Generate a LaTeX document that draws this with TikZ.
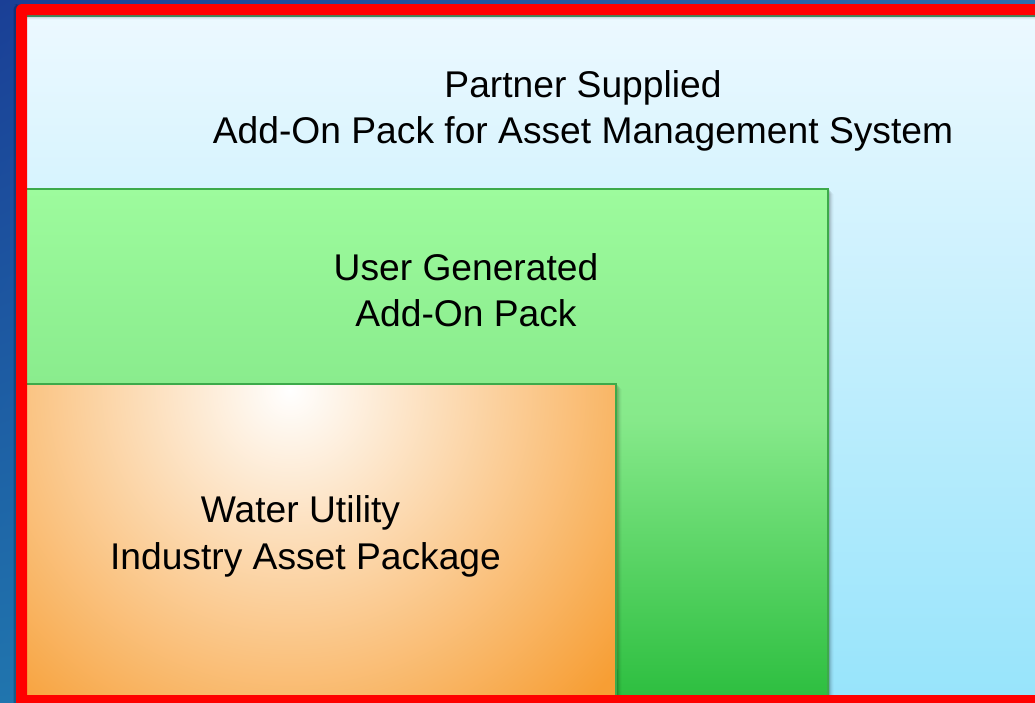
\documentclass[tikz,border=0pt]{standalone}
\usepackage{fontspec}
\setmainfont{Liberation Sans}
\usetikzlibrary{shadings}
\definecolor{bgUL}{HTML}{1A3F96}
\definecolor{bgUR}{HTML}{2D6EAE}
\definecolor{bgLL}{HTML}{2075AE}
\definecolor{bgLR}{HTML}{2A7DB5}
\definecolor{lbTop}{HTML}{EDF9FF}
\definecolor{lbBot}{HTML}{97E4FB}
\definecolor{gTop}{HTML}{9DFB9D}
\definecolor{gMid}{HTML}{86E98A}
\definecolor{gBot}{HTML}{2CBE3F}
\definecolor{edgegreen}{HTML}{3DAA4A}
\definecolor{topedge}{HTML}{3A8C5E}
\definecolor{orMain}{HTML}{F79E34}
\definecolor{frameRed}{HTML}{FF0000}
\begin{document}
\begin{tikzpicture}[x=1pt,y=-1pt,
  lbl/.style={font=\fontsize{37.2}{46}\selectfont, inner sep=0pt, anchor=base, text=black},
  boxedge/.style={draw=edgegreen, line width=2pt},
  softshadow/.style={fill=black, opacity=#1}]
\useasboundingbox (0,0) rectangle (1035,702);
\clip (0,0) rectangle (1035,702);
% outer blue background
\shade[upper left=bgUL, upper right=bgUR, lower left=bgLL, lower right=bgLR] (0,0) rectangle (1035,702);
% light blue panel
\shade[top color=lbTop, bottom color=lbBot] (21,9) rectangle (1040,700);
% thin edge under top of frame
\foreach \d/\o in {1/0.10,2/0.06,3/0.04,4/0.02}
  \fill[softshadow=\o] (27,16) rectangle (1035,16+\d);
\draw[topedge, line width=1.5pt] (27,16) -- (1035,16);
% green panel shadow
\foreach \d/\o in {1/0.10,2/0.07,3/0.05,4/0.03,5/0.02}
  \fill[softshadow=\o] (829,189+\d) rectangle (829+\d,700);
% green panel
\shade[top color=gTop, bottom color=gMid] (21,189) rectangle (829,421);
\shade[top color=gMid, bottom color=gBot] (21,420) rectangle (829,700);
\draw[boxedge] (21,189) -- (828,189) -- (828,705);
% orange panel shadow
\foreach \d/\o in {1/0.10,2/0.07,3/0.05,4/0.03,5/0.02}
  \fill[softshadow=\o] (617,384+\d) rectangle (617+\d,700);
% orange panel
\fill[orMain] (21,384) rectangle (617,700);
\begin{scope}
  \clip (21,384) rectangle (617,700);
  \shade[inner color=white, outer color=orMain] (290,390) circle [radius=430];
\end{scope}
\draw[boxedge] (21,384) -- (616,384) -- (616,705);
% red frame
\fill[black, opacity=0.22, rounded corners=6pt] (13.5,4) rectangle (20,712);
\fill[frameRed, even odd rule] [rounded corners=6pt] (16,4) rectangle (1050,712)
  [sharp corners] (27,15) rectangle (1042,695);
% labels
\node[lbl] (p1) at (583,97) {Partner Supplied};
\node[lbl] (p2) at (583,143) {Add-On Pack for Asset Management System};
\node[lbl] (u1) at (466,280) {User Generated};
\node[lbl] (u2) at (466,326) {Add-On Pack};
\node[lbl] (w1) at (300.5,522) {Water Utility};
\node[lbl] (w2) at (305.5,569) {Industry Asset Package};
\end{tikzpicture}
\end{document}
